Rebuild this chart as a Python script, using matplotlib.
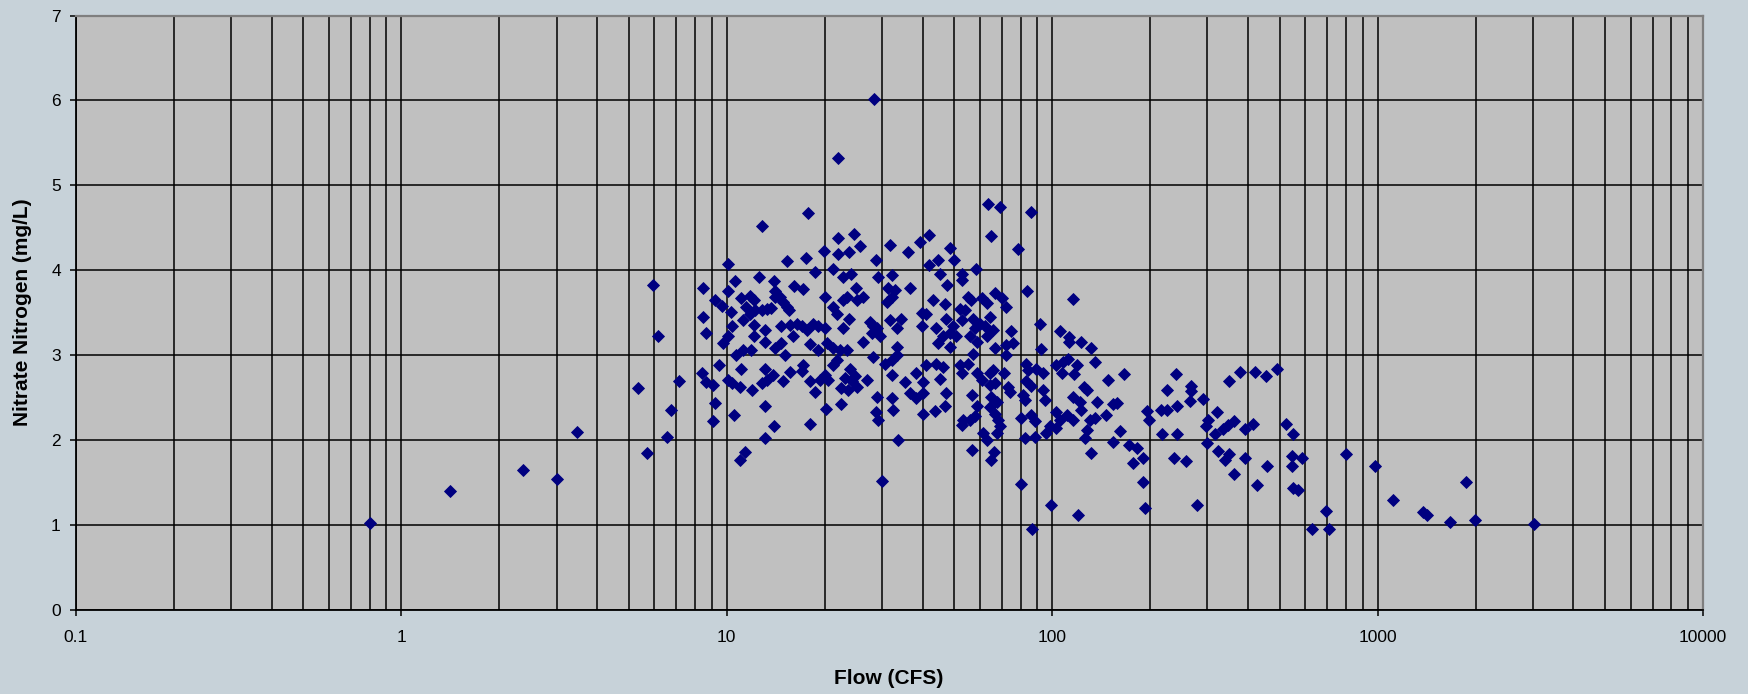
import matplotlib
matplotlib.use("Agg")
import matplotlib.pyplot as plt
from matplotlib.ticker import LogLocator, NullFormatter, FixedLocator, FixedFormatter

plt.rcParams['font.family'] = ['Liberation Sans', 'DejaVu Sans']

# ---- data (flow in CFS, nitrate nitrogen in mg/L) ----
flow_low = [0.80, 1.41, 2.36, 3.00, 3.48, 5.35, 5.71, 5.92, 6.15, 6.57, 6.73, 7.14]
nitrate_low = [1.02, 1.40, 1.65, 1.54, 2.09, 2.61, 1.85, 3.83, 3.22, 2.04, 2.35, 2.69]

flow_a = [28.3, 22.0, 17.8, 12.8, 10.06, 15.35, 17.5, 19.9, 22.0, 24.6, 25.7, 22.0, 23.8, 28.7,
          31.7, 18.7, 21.2, 22.8, 24.1, 29.1, 32.1, 12.6, 14.0, 10.6, 8.43, 10.06, 16.1, 17.2,
          20.0, 24.9, 31.4, 32.9, 9.20, 9.65, 8.43, 8.63, 10.3, 11.1, 11.8, 12.1, 11.5, 11.8,
          12.2, 12.8, 13.3, 13.7, 11.2, 12.1, 10.35, 10.1, 12.1, 13.1, 14.1, 14.6, 14.9, 15.3,
          15.5, 14.1, 14.7, 15.6, 16.4, 17.0, 17.6, 18.4, 19.1, 20.0, 16.0, 21.2, 21.8, 22.8,
          23.4, 25.1, 26.3, 23.8, 22.8, 27.5, 28.2, 28.9, 27.9, 29.6, 31.0, 32.1, 31.7, 33.3]
nitrate_a = [6.02, 5.32, 4.67, 4.52, 4.07, 4.11, 4.14, 4.23, 4.38, 4.43, 4.29, 4.19, 4.21, 4.12,
             4.30, 3.98, 4.01, 3.92, 3.96, 3.92, 3.94, 3.92, 3.87, 3.87, 3.79, 3.75, 3.81, 3.78,
             3.69, 3.79, 3.79, 3.77, 3.65, 3.58, 3.45, 3.26, 3.51, 3.67, 3.70, 3.65, 3.57, 3.49,
             3.53, 3.53, 3.54, 3.55, 3.41, 3.35, 3.34, 3.22, 3.22, 3.30, 3.69, 3.69, 3.63, 3.57,
             3.53, 3.75, 3.34, 3.35, 3.37, 3.34, 3.30, 3.37, 3.34, 3.32, 3.22, 3.57, 3.49, 3.65,
             3.69, 3.65, 3.69, 3.43, 3.32, 3.39, 3.34, 3.32, 3.26, 3.22, 3.63, 3.69, 3.41, 3.32]

flow_b = [9.76, 10.7, 11.2, 11.9, 13.1, 14.1, 15.1, 14.7, 18.0, 19.1, 20.3, 21.2, 22.3, 23.4,
          26.3, 28.2, 30.6, 32.1, 33.3, 33.3, 32.1, 9.46, 11.1, 13.1, 13.9, 15.6, 17.2, 17.0,
          8.37, 8.63, 9.09, 10.1, 10.35, 11.0, 12.0, 12.8, 13.3, 14.9, 18.0, 18.7, 19.3, 20.5,
          20.0, 21.2, 21.8, 23.9, 23.1, 24.8, 26.9, 22.5, 23.6, 25.1, 24.2, 28.9, 32.1, 32.5,
          28.7, 29.2, 9.20, 10.5, 13.1, 9.09, 14.0, 18.0, 13.1, 20.2, 22.5, 11.4, 11.0, 30.1, 33.7]
nitrate_b = [3.14, 3.00, 3.06, 3.06, 3.15, 3.08, 3.00, 3.14, 3.13, 3.06, 3.14, 3.08, 3.06, 3.06,
             3.16, 2.98, 2.90, 2.94, 3.00, 3.10, 2.77, 2.88, 2.84, 2.84, 2.77, 2.80, 2.88, 2.81,
             2.79, 2.68, 2.65, 2.71, 2.67, 2.63, 2.59, 2.67, 2.71, 2.69, 2.69, 2.57, 2.71, 2.71,
             2.77, 2.88, 2.94, 2.84, 2.73, 2.75, 2.71, 2.61, 2.59, 2.63, 2.69, 2.51, 2.49, 2.35,
             2.33, 2.24, 2.44, 2.30, 2.40, 2.22, 2.17, 2.19, 2.02, 2.36, 2.42, 1.86, 1.77, 1.52, 2.00]

flow_c = [63.6, 69.4, 86.0, 65.1, 78.6, 41.9, 39.2, 36.1, 48.7, 44.7, 41.9, 50.0, 45.2, 47.6,
          52.7, 52.7, 58.3, 36.5, 43.1, 47.0, 55.2, 56.5, 60.7, 62.9, 66.7, 69.9, 72.4, 84.0,
          116, 52.1, 53.9, 39.7, 41.1, 34.4, 47.3, 52.7, 57.2, 64.4, 60.0, 57.9, 62.1, 65.9,
          39.7, 44.1, 49.7, 48.5, 46.3, 50.8, 55.9, 62.9, 75.0, 91.7, 106, 113]
nitrate_c = [4.78, 4.74, 4.69, 4.40, 4.25, 4.42, 4.33, 4.21, 4.26, 4.12, 4.06, 4.12, 3.96, 3.83,
             3.96, 3.88, 4.02, 3.79, 3.65, 3.60, 3.69, 3.65, 3.67, 3.62, 3.73, 3.67, 3.57, 3.75,
             3.66, 3.54, 3.53, 3.50, 3.49, 3.43, 3.43, 3.41, 3.43, 3.45, 3.37, 3.32, 3.34, 3.30,
             3.34, 3.32, 3.34, 3.26, 3.22, 3.22, 3.22, 3.22, 3.28, 3.37, 3.29, 3.21]

flow_d = [44.7, 48.5, 58.6, 66.7, 72.4, 75.9, 72.4, 92.7, 113, 123, 132, 57.2, 41.1, 44.1,
          46.3, 52.1, 55.2, 52.7, 58.6, 60.7, 65.9, 64.4, 71.1, 83.4, 84.4, 89.5, 93.8, 103,
          108, 112, 119, 117, 107, 135, 35.3, 38.3, 40.2, 45.2, 36.5, 38.3, 40.2, 47.3, 46.8,
          43.6, 40.0, 56.9, 58.9, 64.4, 66.7, 65.1, 67.5, 73.3, 74.1, 81.5, 82.5, 83.4, 86.4,
          93.8, 95.0, 116, 122, 125, 128, 137, 64.4, 66.7, 68.3, 69.1, 67.5, 61.4, 62.9, 53.3,
          52.7, 55.9, 57.9, 80.5, 86.4, 88.5, 103, 106, 111, 116, 123, 131, 135, 98.4, 103,
          96.1, 128, 126, 82.5, 88.5, 56.9, 66.2, 65.1, 132, 80.0, 98.9, 120, 87.0]
nitrate_d = [3.14, 3.10, 3.16, 3.08, 3.12, 3.14, 3.00, 3.07, 3.16, 3.15, 3.08, 3.01, 2.88, 2.90,
             2.86, 2.88, 2.90, 2.79, 2.79, 2.71, 2.83, 2.79, 2.79, 2.90, 2.83, 2.84, 2.79, 2.88,
             2.92, 2.96, 2.88, 2.78, 2.79, 2.92, 2.68, 2.79, 2.68, 2.72, 2.55, 2.49, 2.55, 2.55, 2.40,
             2.34, 2.31, 2.53, 2.40, 2.65, 2.67, 2.51, 2.45, 2.63, 2.57, 2.53, 2.47, 2.69, 2.64,
             2.59, 2.47, 2.51, 2.45, 2.63, 2.59, 2.45, 2.39, 2.31, 2.24, 2.16, 2.08, 2.08, 2.00, 2.24,
             2.18, 2.24, 2.28, 2.26, 2.30, 2.22, 2.33, 2.24, 2.30, 2.24, 2.35, 2.24, 2.26, 2.16, 2.14,
             2.08, 2.12, 2.02, 2.02, 2.04, 1.88, 1.86, 1.77, 1.85, 1.48, 1.23, 1.12, 0.95]

flow_e = [148, 166, 240, 225, 268, 268, 265, 290, 350, 377, 421, 454, 491, 154, 158, 146, 195,
          199, 216, 225, 242, 320, 302, 297, 316, 335, 348, 363, 391, 413, 523, 550, 162, 154,
          172, 182, 190, 177, 218, 242, 300, 324, 339, 350, 392, 456, 363, 544, 544, 427, 550,
          570, 190, 193, 278, 237, 258]
nitrate_e = [2.71, 2.78, 2.78, 2.59, 2.64, 2.58, 2.46, 2.48, 2.69, 2.80, 2.80, 2.76, 2.84, 2.42,
             2.44, 2.30, 2.34, 2.24, 2.35, 2.35, 2.40, 2.33, 2.24, 2.17, 2.07, 2.13, 2.18, 2.22,
             2.13, 2.19, 2.19, 2.07, 2.11, 1.98, 1.94, 1.91, 1.79, 1.73, 2.07, 2.07, 1.96, 1.87,
             1.77, 1.84, 1.79, 1.69, 1.60, 1.81, 1.69, 1.47, 1.44, 1.41, 1.50, 1.20, 1.24, 1.79, 1.75]

flow_high = [587, 802, 984, 692, 631, 708, 1117, 1380, 1420, 1674, 1866, 1994, 3027]
nitrate_high = [1.79, 1.83, 1.69, 1.16, 0.95, 0.95, 1.29, 1.15, 1.12, 1.04, 1.50, 1.06, 1.01]

flow = flow_low + flow_a + flow_b + flow_c + flow_d + flow_e + flow_high
nitrate = nitrate_low + nitrate_a + nitrate_b + nitrate_c + nitrate_d + nitrate_e + nitrate_high

x_ticks = [0.1, 1, 10, 100, 1000, 10000]
x_tick_labels = ["0.1", "1", "10", "100", "1000", "10000"]
y_ticks = [0, 1, 2, 3, 4, 5, 6, 7]

# ---- figure ----
W, H = 1748, 694
fig = plt.figure(figsize=(W / 100, H / 100), dpi=100)
fig.patch.set_facecolor('#C7D2D9')
ax = fig.add_axes([75.8 / W, 1 - 609.8 / H, (1703 - 75.8) / W, (609.8 - 15.6) / H])
ax.set_facecolor('#C0C0C0')

ax.set_xscale('log')
ax.set_xlim(0.1, 10000)
ax.set_ylim(0, 7)

ax.xaxis.set_major_locator(FixedLocator(x_ticks))
ax.xaxis.set_major_formatter(FixedFormatter(x_tick_labels))
ax.xaxis.set_minor_locator(LogLocator(base=10, subs=[2, 3, 4, 5, 6, 7, 8, 9], numticks=50))
ax.xaxis.set_minor_formatter(NullFormatter())
ax.set_yticks(y_ticks)

ax.grid(True, which='major', axis='both', color='black', linewidth=1.1)
ax.grid(True, which='minor', axis='x', color='black', linewidth=1.1)
ax.set_axisbelow(True)

ax.tick_params(axis='x', which='major', direction='out', length=4.3, width=1.1,
               pad=10, labelsize=12.5, colors='black')
ax.tick_params(axis='x', which='minor', length=0)
ax.tick_params(axis='y', which='major', direction='out', length=4.3, width=1.1,
               pad=6.5, labelsize=12.5, colors='black')

for side in ['left', 'bottom']:
    ax.spines[side].set_color('black')
    ax.spines[side].set_linewidth(1.3)
for side in ['top', 'right']:
    ax.spines[side].set_color('#7F7F7F')
    ax.spines[side].set_linewidth(1.6)

ax.plot(flow, nitrate, linestyle='none', marker='D', markersize=6.5,
        color='#000080', markeredgecolor='#000080', markeredgewidth=0.6, zorder=3)

fig.text(889 / W, 1 - 678 / H, "Flow (CFS)", ha='center', va='center',
         fontsize=15, fontweight='bold')
fig.text(23 / W, 1 - 312 / H, "Nitrate Nitrogen (mg/L)", ha='center', va='center',
         rotation=90, fontsize=15, fontweight='bold')

fig.savefig('out.png', dpi=100, facecolor=fig.get_facecolor())
